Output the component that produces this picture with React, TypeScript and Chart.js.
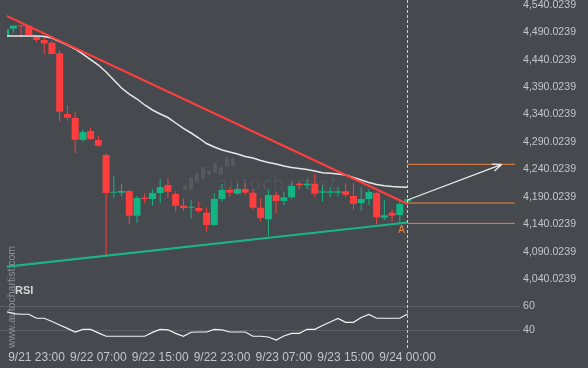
import React, { useEffect, useRef } from 'react';
import { Chart, registerables } from 'chart.js';

Chart.register(...registerables);

// ---------- data ----------
const opens = [
  4481.8, 4496.3, 4502.5, 4501.8, 4481.8, 4475.7, 4470.8, 4451.5, 4341.0, 4333.7,
  4293.7, 4310.1, 4293.7, 4266.4, 4197.7, 4197.7, 4200.8, 4155.8, 4188.6, 4186.2,
  4197.2, 4211.7, 4195.3, 4174.0, 4170.4, 4169.9, 4161.3, 4138.9, 4186.2, 4202.6,
  4195.9, 4204.4, 4197.7, 4170.4, 4149.3, 4193.5, 4182.6, 4189.3, 4214.1, 4211.2,
  4214.1, 4197.7, 4197.7, 4197.7, 4200.3, 4191.7, 4178.9, 4186.2, 4197.2, 4152.2,
  4161.3, 4157.1, 4181.3,
];
const closes = [
  4495.2, 4501.8, 4500.7, 4484.9, 4475.7, 4469.7, 4450.3, 4345.2, 4334.3, 4294.2,
  4308.2, 4295.5, 4283.3, 4197.2, 4199.5, 4200.8, 4155.8, 4188.1, 4186.2, 4197.2,
  4208.1, 4199.5, 4174.0, 4169.9, 4172.2, 4164.4, 4138.9, 4186.2, 4202.6, 4197.7,
  4204.4, 4197.7, 4170.4, 4151.6, 4193.5, 4182.6, 4189.3, 4209.9, 4211.2, 4214.1,
  4195.9, 4200.3, 4200.3, 4200.3, 4194.1, 4177.7, 4186.2, 4199.0, 4152.9, 4156.6,
  4155.8, 4177.1, 4185.7,
];
const highs = [
  4495.2, 4501.8, 4503.5, 4503.0, 4483.0, 4479.9, 4473.9, 4457.5, 4357.4, 4344.7,
  4313.2, 4316.8, 4301.5, 4269.5, 4228.1, 4213.6, 4202.6, 4192.2, 4196.6, 4203.9,
  4222.7, 4223.9, 4200.3, 4187.5, 4184.4, 4181.3, 4171.1, 4196.6, 4213.6, 4208.6,
  4214.8, 4215.9, 4203.9, 4187.5, 4202.6, 4199.5, 4199.5, 4217.7, 4217.7, 4222.1,
  4231.8, 4211.7, 4208.6, 4208.6, 4214.8, 4215.9, 4207.5, 4203.9, 4198.5, 4184.4,
  4167.5, 4185.7, 4185.7,
];
const lows = [
  4481.8, 4487.9, 4479.9, 4481.8, 4471.6, 4449.7, 4450.0, 4327.0, 4328.8, 4269.5,
  4290.6, 4293.7, 4281.5, 4084.3, 4187.5, 4190.4, 4140.7, 4142.0, 4178.4, 4174.0,
  4178.4, 4188.6, 4163.1, 4164.4, 4151.1, 4160.2, 4126.7, 4138.0, 4181.3, 4190.4,
  4193.5, 4193.5, 4166.2, 4144.9, 4118.9, 4160.2, 4175.3, 4185.7, 4205.0, 4203.9,
  4190.4, 4181.3, 4189.3, 4190.4, 4190.4, 4166.2, 4164.4, 4175.3, 4140.7, 4148.0,
  4144.9, 4143.1, 4181.3,
];
const movingAverage = [
  4483.0, 4483.0, 4483.0, 4483.0, 4483.0, 4482.1, 4479.4, 4473.0, 4466.6, 4459.4,
  4450.2, 4440.2, 4430.2, 4417.5, 4402.9, 4388.3, 4377.4, 4368.3, 4357.4, 4348.3,
  4341.0, 4334.6, 4324.6, 4315.0, 4306.4, 4297.3, 4287.3, 4280.9, 4275.4, 4271.8,
  4268.2, 4263.6, 4260.9, 4256.3, 4252.7, 4249.9, 4246.3, 4243.6, 4241.8, 4239.9,
  4237.2, 4233.9, 4233.2, 4231.7, 4229.9, 4225.4, 4220.8, 4216.3, 4212.6, 4210.4,
  4209.0, 4208.1, 4207.5,
];
const rsiValues = [
  55.5, 53.8, 53.2, 53.2, 49.9, 49.9, 47.2, 44.4, 41.6, 38.6,
  40.8, 40.8, 37.9, 35.1, 35.1, 35.1, 35.1, 35.1, 35.1, 38.3,
  40.8, 40.4, 37.5, 35.1, 38.4, 38.6, 38.6, 40.8, 40.4, 38.6,
  38.6, 38.6, 35.1, 35.1, 34.5, 32.0, 35.3, 37.5, 37.5, 40.8,
  40.8, 44.0, 46.8, 49.8, 46.6, 46.6, 50.5, 53.1, 49.9, 49.9,
  49.9, 49.9, 53.4,
];

const xTickPositions = [4, 12, 20, 28, 36, 44, 52];
const xTickLabels = ['9/21 23:00', '9/22 07:00', '9/22 15:00', '9/22 23:00', '9/23 07:00', '9/23 15:00', '9/24 00:00'];
const priceTicks = [4040.0239, 4090.0239, 4140.0239, 4190.0239, 4240.0239, 4290.0239, 4340.0239, 4390.0239, 4440.0239, 4490.0239, 4540.0239];
const rsiTicks = [40, 60];

const resistanceX = [0, 52];
const resistanceY = [4520.4, 4177.0];
const supportX = [0, 52];
const supportY = [4062.8, 4143.5];

const levelValues = [4249.4, 4178.9, 4141.9];
const levelSpan = [52, 65.9];
const arrowFrom = [52, 4184.4];
const arrowTo = [64.2, 4249.4];
const nowIndex = 52;

const xRange = [0.181, 66.55];
const priceRange = [4029.65, 4548.58];
const rsiRange = [23.79, 77.28];

// ---------- styles ----------
const BG = '#46494e';
const UP = '#13b583';
const DOWN = '#ff3d3d';
const FAMILY = "'Liberation Sans', Arial, sans-serif";
const LABEL = '#c3c5c8';

const logoBars = [
  [185, 185, 190], [191, 177, 190], [197, 173, 182], [203, 167, 179], [209, 170, 175],
  [215, 163, 173], [221, 167, 175], [227, 157, 167], [233, 158, 166],
];

const decor = {
  id: 'decor',
  beforeDraw(c: any) {
    const ctx = c.ctx;
    ctx.save();
    ctx.fillStyle = BG;
    ctx.fillRect(0, 0, c.width, c.height);
    ctx.restore();
  },
  beforeDatasetsDraw(c: any) {
    const ctx = c.ctx;
    const area = c.chartArea;
    const yR = c.scales.yRsi;
    ctx.save();
    ctx.strokeStyle = '#5b5f64';
    ctx.lineWidth = 1;
    rsiTicks.forEach((v) => {
      const py = Math.round(yR.getPixelForValue(v)) + 0.5;
      ctx.beginPath();
      ctx.moveTo(0, py);
      ctx.lineTo(area.right, py);
      ctx.stroke();
    });
    // watermark logo + text
    ctx.fillStyle = 'rgba(255,255,255,0.09)';
    logoBars.forEach(([bx, t, b]) => {
      ctx.beginPath();
      (ctx as any).roundRect(bx - 2, t, 4, b - t, 1.5);
      ctx.fill();
    });
    ctx.fillStyle = 'rgba(255,255,255,0.09)';
    ctx.font = '300 19px Lato';
    ctx.textBaseline = 'alphabetic';
    ctx.textAlign = 'left';
    const txt = 'autochartist';
    const w = ctx.measureText(txt).width;
    const ls = (119 - w) / (txt.length - 1);
    try { (ctx as any).letterSpacing = ls + 'px'; } catch (e) {}
    ctx.fillText(txt, 218, 190);
    try { (ctx as any).letterSpacing = '0px'; } catch (e) {}
    // vertical site text
    ctx.save();
    ctx.translate(12.5, 297);
    ctx.rotate(-Math.PI / 2);
    ctx.fillStyle = '#8d9095';
    ctx.font = `10.5px ${FAMILY}`;
    ctx.textAlign = 'center';
    ctx.textBaseline = 'middle';
    ctx.fillText('www.autochartist.com', 0, 0);
    ctx.restore();
    ctx.restore();
  },
  afterDatasetsDraw(c: any) {
    const ctx = c.ctx;
    const area = c.chartArea;
    const x = c.scales.x;
    const y = c.scales.y;
    ctx.save();
    // now line
    const nx = Math.round(x.getPixelForValue(nowIndex)) - 0.5;
    ctx.strokeStyle = '#d0d0d0';
    ctx.lineWidth = 1;
    ctx.setLineDash([3, 2]);
    ctx.beginPath();
    ctx.moveTo(nx, area.top);
    ctx.lineTo(nx, area.bottom);
    ctx.stroke();
    ctx.setLineDash([]);
    // arrow
    const p0x = x.getPixelForValue(arrowFrom[0]);
    const p0y = y.getPixelForValue(arrowFrom[1]);
    const p1x = x.getPixelForValue(arrowTo[0]);
    const p1y = y.getPixelForValue(arrowTo[1]);
    ctx.strokeStyle = '#ebebeb';
    ctx.lineWidth = 1.3;
    ctx.beginPath();
    ctx.moveTo(p0x, p0y);
    ctx.lineTo(p1x, p1y);
    const ang = Math.atan2(p1y - p0y, p1x - p0x);
    [-1, 1].forEach((s) => {
      const a = ang + Math.PI + s * 0.38;
      ctx.moveTo(p1x, p1y);
      ctx.lineTo(p1x + 10 * Math.cos(a), p1y + 10 * Math.sin(a));
    });
    ctx.stroke();
    // A label
    ctx.fillStyle = '#f0843c';
    ctx.font = `10px ${FAMILY}`;
    ctx.textAlign = 'center';
    ctx.textBaseline = 'middle';
    ctx.fillText('A', x.getPixelForValue(supportX[1]) - 6, y.getPixelForValue(supportY[1]) + 8);
    // RSI title
    ctx.fillStyle = '#d5d5d5';
    ctx.font = `bold 11px ${FAMILY}`;
    ctx.textAlign = 'left';
    ctx.fillText('RSI', 15, 291);
    ctx.restore();
  },
};

export default function App() {
  const ref = useRef<HTMLCanvasElement>(null);
  useEffect(() => {
    const canvas = ref.current!;
    const idx = opens.map((_, i) => i);
    const colors = idx.map((i) => (closes[i] >= opens[i] ? UP : DOWN));
    const line = (data: any[], color: string, width: number, order: number, axis = 'y') => ({
      type: 'line',
      data,
      borderColor: color,
      borderWidth: width,
      pointRadius: 0,
      tension: 0,
      fill: false,
      order,
      xAxisID: 'x',
      yAxisID: axis,
    });
    const chart = new Chart(canvas, {
      type: 'bar',
      data: {
        datasets: [
          line(resistanceX.map((v, i) => ({ x: v, y: resistanceY[i] })), '#ff3f3f', 2.2, 0),
          line(supportX.map((v, i) => ({ x: v, y: supportY[i] })), '#1cb487', 2.2, 0),
          ...levelValues.map((lv) => line(levelSpan.map((s) => ({ x: s, y: lv })), '#f0843c', 1, 0)),
          line(movingAverage.map((v, i) => ({ x: i, y: v })), '#e8e8e8', 1.5, 1),
          {
            type: 'bar',
            data: idx.map((i) => ({ x: i, y: [opens[i], closes[i]] })),
            backgroundColor: colors,
            barThickness: 7,
            grouped: false,
            inflateAmount: 0,
            borderWidth: 0,
            order: 2,
            xAxisID: 'x',
            yAxisID: 'y',
          },
          {
            type: 'bar',
            data: idx.map((i) => ({ x: i, y: [lows[i], highs[i]] })),
            backgroundColor: colors,
            barThickness: 1,
            grouped: false,
            inflateAmount: 0,
            borderWidth: 0,
            order: 3,
            xAxisID: 'x',
            yAxisID: 'y',
          },
          line(rsiValues.map((v, i) => ({ x: i, y: v })), '#f2f2f2', 1.2, 0, 'yRsi'),
        ] as any,
      },
      options: {
        animation: false,
        responsive: false,
        events: [],
        layout: { padding: { left: 7, right: 0, top: 0, bottom: 0 } },
        plugins: { legend: { display: false }, tooltip: { enabled: false } },
        scales: {
          x: {
            type: 'linear',
            min: xRange[0],
            max: xRange[1],
            offset: false,
            grid: { display: false, drawTicks: false },
            border: { display: false },
            afterBuildTicks: (s: any) => { s.ticks = xTickPositions.map((v) => ({ value: v })); },
            afterFit: (s: any) => { s.height = 18; s.paddingLeft = 0; s.paddingRight = 0; },
            ticks: {
              autoSkip: false,
              maxRotation: 0,
              padding: 0,
              color: LABEL,
              font: { family: FAMILY, size: 12 },
              callback: (v: any) => {
                const k = xTickPositions.indexOf(Number(v));
                return k >= 0 ? xTickLabels[k] : '';
              },
            },
          },
          y: {
            type: 'linear',
            position: 'right',
            stack: 'panes',
            stackWeight: 285,
            min: priceRange[0],
            max: priceRange[1],
            grid: { display: false, drawTicks: false },
            border: { display: false },
            afterBuildTicks: (s: any) => { s.ticks = priceTicks.map((v) => ({ value: v })); },
            afterFit: (s: any) => { s.width = 68; s.paddingTop = 0; s.paddingBottom = 0; },
            ticks: {
              autoSkip: false,
              padding: 3,
              color: LABEL,
              font: { family: FAMILY, size: 10.6 },
              callback: (v: any) => Number(v).toLocaleString('en-US', { minimumFractionDigits: 4, maximumFractionDigits: 4 }),
            },
          },
          yRsi: {
            type: 'linear',
            position: 'right',
            stack: 'panes',
            stackWeight: 65,
            min: rsiRange[0],
            max: rsiRange[1],
            grid: { display: false, drawTicks: false },
            border: { display: false },
            afterBuildTicks: (s: any) => { s.ticks = rsiTicks.map((v) => ({ value: v })); },
            afterFit: (s: any) => { s.width = 68; s.paddingTop = 0; s.paddingBottom = 0; },
            ticks: {
              autoSkip: false,
              padding: 3,
              color: LABEL,
              font: { family: FAMILY, size: 10.6 },
              callback: (v: any) => String(v),
            },
          },
        },
      } as any,
      plugins: [decor],
    });
    return () => chart.destroy();
  }, []);

  return (
    <div style={{ position: 'fixed', left: 0, top: 0, width: 588, height: 368, background: BG }}>
      <canvas ref={ref} width={588} height={368} style={{ display: 'block' }} />
    </div>
  );
}
